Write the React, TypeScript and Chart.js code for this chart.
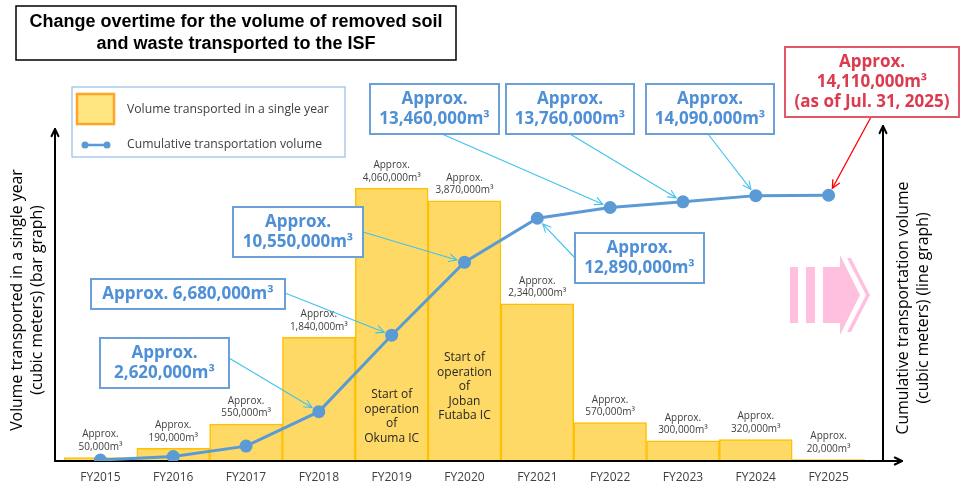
import { useEffect, useRef } from "react";
import { Chart, registerables } from "chart.js";

Chart.register(...registerables);

// ---- data ----
const categories = ["FY2015", "FY2016", "FY2017", "FY2018", "FY2019", "FY2020", "FY2021", "FY2022", "FY2023", "FY2024", "FY2025"];
const annualVolume = [50000, 190000, 550000, 1840000, 4060000, 3870000, 2340000, 570000, 300000, 320000, 20000];
const cumulativeVolume = [50000, 240000, 790000, 2620000, 6680000, 10550000, 12890000, 13460000, 13760000, 14090000, 14110000];

const calloutIndex = [3, 4, 5, 6, 7, 8, 9, 10];
const calloutLines = [
  ["Approx.", "2,620,000m³"],
  ["Approx. 6,680,000m³"],
  ["Approx.", "10,550,000m³"],
  ["Approx.", "12,890,000m³"],
  ["Approx.", "13,460,000m³"],
  ["Approx.", "13,760,000m³"],
  ["Approx.", "14,090,000m³"],
  ["Approx.", "14,110,000m³", "(as of Jul. 31, 2025)"],
];

const noteIndex = [4, 5];
const noteLines = [
  ["Start of", "operation", "of", "Okuma IC"],
  ["Start of", "operation", "of", "Joban", "Futaba IC"],
];

const titleLines = ["Change overtime for the volume of removed soil", "and waste transported to the ISF"];
const leftTitle = ["Volume transported in a single year", "(cubic meters) (bar graph)"];
const rightTitle = ["Cumulative transportation volume", "(cubic meters) (line graph)"];

// ---- layout / style ----
// callout boxes [x, y, w, h] and arrow start [x, y]
const calloutBox = [
  [100, 338, 129, 50],
  [91, 279, 194, 30],
  [233, 207, 130, 50],
  [575, 233, 129, 50],
  [370, 84, 129, 50],
  [506, 84, 128, 50],
  [646, 84, 128, 50],
  [785, 47, 174, 70],
];
const calloutFrom = [
  [229, 358],
  [285, 293],
  [363, 232],
  [575, 258],
  [442, 134],
  [570, 134],
  [708, 134],
  [871, 117],
];
const noteTop = [395, 358];

const FONT = '"Open Sans", "Noto Sans", sans-serif';
const BLUE = "#5b9bd5";
const BOX_BLUE = "#6a9fd8";
const TEXT_BLUE = "#4e8fd6";
const CYAN = "#3fc2ee";
const RED_TEXT = "#dc3a4e";
const RED_BOX = "#e2576a";
const GREY = "#404040";

const arrowHead = (ctx: CanvasRenderingContext2D, fx: number, fy: number, tx: number, ty: number, size: number) => {
  const a = Math.atan2(ty - fy, tx - fx);
  ctx.beginPath();
  ctx.moveTo(tx - size * Math.cos(a - 0.45), ty - size * Math.sin(a - 0.45));
  ctx.lineTo(tx, ty);
  ctx.lineTo(tx - size * Math.cos(a + 0.45), ty - size * Math.sin(a + 0.45));
  ctx.stroke();
};

const decorPlugin = {
  id: "decor",
  afterDatasetDraw(chart: any, args: any) {
    if (args.meta.type !== "bar") return;
    const ctx: CanvasRenderingContext2D = chart.ctx;
    const base = chart.chartArea.bottom;
    ctx.save();
    ctx.strokeStyle = "#000";
    ctx.lineWidth = 2;
    ctx.lineCap = "round";
    ctx.lineJoin = "round";
    // left axis
    ctx.beginPath();
    ctx.moveTo(55, base);
    ctx.lineTo(55, 129);
    ctx.stroke();
    arrowHead(ctx, 55, base, 55, 129, 8);
    // right axis
    ctx.beginPath();
    ctx.moveTo(883, base);
    ctx.lineTo(883, 126);
    ctx.stroke();
    arrowHead(ctx, 883, base, 883, 126, 8);
    // x axis
    ctx.beginPath();
    ctx.moveTo(55, base);
    ctx.lineTo(902, base);
    ctx.stroke();
    arrowHead(ctx, 55, base, 902, base, 8);
    ctx.restore();
  },
  afterDatasetsDraw(chart: any) {
    const ctx: CanvasRenderingContext2D = chart.ctx;
    const x = chart.scales.x;
    const bars = chart.getDatasetMeta(1).data;
    const pts = chart.getDatasetMeta(0).data;
    ctx.save();
    ctx.textAlign = "center";
    ctx.textBaseline = "middle";

    // x tick labels
    ctx.fillStyle = GREY;
    ctx.font = `12px ${FONT}`;
    categories.forEach((c, i) => ctx.fillText(c, x.getPixelForValue(i), 478));

    // bar value labels
    ctx.font = `10px ${FONT}`;
    annualVolume.forEach((v, i) => {
      const b = bars[i];
      ctx.fillText("Approx.", b.x, b.y - 23);
      ctx.fillText(v.toLocaleString("en-US") + "m³", b.x, b.y - 10.5);
    });

    // notes inside bars
    ctx.fillStyle = "#262626";
    ctx.font = `12px ${FONT}`;
    noteIndex.forEach((idx, k) => {
      noteLines[k].forEach((t, j) => ctx.fillText(t, x.getPixelForValue(idx), noteTop[k] + j * 14.5));
    });

    // callouts
    calloutIndex.forEach((idx, k) => {
      const red = k === calloutIndex.length - 1;
      const [bx, by, bw, bh] = calloutBox[k];
      const [fx, fy] = calloutFrom[k];
      const p = pts[idx];
      const dx = p.x - fx;
      const dy = p.y - fy;
      const d = Math.hypot(dx, dy);
      const tx = p.x - (dx / d) * 8;
      const ty = p.y - (dy / d) * 8;
      ctx.strokeStyle = red ? "#ff0000" : CYAN;
      ctx.lineWidth = red ? 1.3 : 1.1;
      ctx.beginPath();
      ctx.moveTo(fx, fy);
      ctx.lineTo(tx, ty);
      ctx.stroke();
      arrowHead(ctx, fx, fy, tx, ty, 9);

      ctx.fillStyle = "#fff";
      ctx.fillRect(bx, by, bw, bh);
      ctx.strokeStyle = red ? RED_BOX : BOX_BLUE;
      ctx.lineWidth = 2;
      ctx.strokeRect(bx, by, bw, bh);
      ctx.fillStyle = red ? RED_TEXT : TEXT_BLUE;
      ctx.font = `bold 17px ${FONT}`;
      const lines = calloutLines[k];
      const step = red ? 20 : 19.5;
      const y0 = by + bh / 2 - ((lines.length - 1) * step) / 2;
      lines.forEach((t, j) => ctx.fillText(t, bx + bw / 2, y0 + j * step));
    });

    // title box
    ctx.fillStyle = "#fff";
    ctx.fillRect(16, 6, 440, 54);
    ctx.strokeStyle = "#000";
    ctx.lineWidth = 1.5;
    ctx.strokeRect(16, 6, 440, 54);
    ctx.fillStyle = "#000";
    ctx.font = `bold 18px "Liberation Sans", Arial, sans-serif`;
    titleLines.forEach((t, j) => ctx.fillText(t, 236, 22 + j * 22));

    // legend
    ctx.fillStyle = "#fff";
    ctx.fillRect(72, 87, 273, 70);
    ctx.strokeStyle = "#9dc3e6";
    ctx.lineWidth = 1.3;
    ctx.strokeRect(72, 87, 273, 70);
    ctx.fillStyle = "#ffe680";
    ctx.fillRect(77, 94, 37, 30);
    ctx.strokeStyle = "#ffa424";
    ctx.lineWidth = 2.5;
    ctx.strokeRect(77, 94, 37, 30);
    ctx.strokeStyle = BLUE;
    ctx.fillStyle = BLUE;
    ctx.lineWidth = 2.5;
    ctx.beginPath();
    ctx.moveTo(85, 145);
    ctx.lineTo(107, 145);
    ctx.stroke();
    [85, 107].forEach((cx) => {
      ctx.beginPath();
      ctx.arc(cx, 145, 3.5, 0, Math.PI * 2);
      ctx.fill();
    });
    ctx.fillStyle = GREY;
    ctx.font = `12.2px ${FONT}`;
    ctx.textAlign = "left";
    ctx.fillText("Volume transported in a single year", 127, 110);
    ctx.fillText("Cumulative transportation volume", 127, 145);
    ctx.textAlign = "center";

    // axis titles
    ctx.fillStyle = "#000";
    ctx.font = `15.8px ${FONT}`;
    [[17, 300, leftTitle], [903, 308, rightTitle]].forEach(([cx, cy, lines]: any) => {
      ctx.save();
      ctx.translate(cx, cy);
      ctx.rotate(-Math.PI / 2);
      lines.forEach((t: string, j: number) => ctx.fillText(t, 0, j * 20));
      ctx.restore();
    });

    // pink arrow
    ctx.fillStyle = "#ffc0e0";
    ctx.fillRect(790, 267, 8, 56);
    ctx.fillRect(806, 267, 9, 56);
    ctx.beginPath();
    ctx.moveTo(823, 267);
    ctx.lineTo(840, 267);
    ctx.lineTo(840, 255);
    ctx.lineTo(860, 295);
    ctx.lineTo(840, 335);
    ctx.lineTo(840, 323);
    ctx.lineTo(823, 323);
    ctx.closePath();
    ctx.fill();
    ctx.beginPath();
    ctx.moveTo(847, 258);
    ctx.lineTo(851, 258);
    ctx.lineTo(870, 295);
    ctx.lineTo(851, 332);
    ctx.lineTo(847, 332);
    ctx.lineTo(866, 295);
    ctx.closePath();
    ctx.fill();

    ctx.restore();
  },
};

export default function App() {
  const canvasRef = useRef<HTMLCanvasElement>(null);

  useEffect(() => {
    const ctx = canvasRef.current!.getContext("2d")!;
    const chart = new Chart(ctx, {
      data: {
        labels: categories,
        datasets: [
          {
            type: "line",
            label: "Cumulative transportation volume",
            data: cumulativeVolume,
            yAxisID: "y1",
            borderColor: BLUE,
            backgroundColor: BLUE,
            borderWidth: 3,
            pointRadius: 6.5,
            pointBorderWidth: 0,
            pointBackgroundColor: BLUE,
            tension: 0,
            order: 1,
          },
          {
            type: "bar",
            label: "Volume transported in a single year",
            data: annualVolume,
            yAxisID: "y",
            backgroundColor: "#ffd966",
            borderColor: "#ffc000",
            borderWidth: 1.5,
            categoryPercentage: 1,
            barPercentage: 1,
            order: 2,
          },
        ],
      } as any,
      options: {
        animation: false,
        responsive: true,
        maintainAspectRatio: false,
        layout: { padding: { left: 64, right: 95, top: 125, bottom: 33 } },
        plugins: {
          legend: { display: false },
          tooltip: { enabled: false },
        },
        scales: {
          x: { display: false, offset: true },
          y: { display: false, min: 0, max: 5000000 },
          y1: { display: false, min: 0, max: 17840000, position: "right" },
        },
      },
      plugins: [decorPlugin],
    });

    return () => {
      chart.destroy();
    };
  }, []);

  return (
    <div style={{ position: "fixed", left: 0, top: 0, width: 960, height: 494, background: "#fff" }}>
      <canvas ref={canvasRef} />
    </div>
  );
}
